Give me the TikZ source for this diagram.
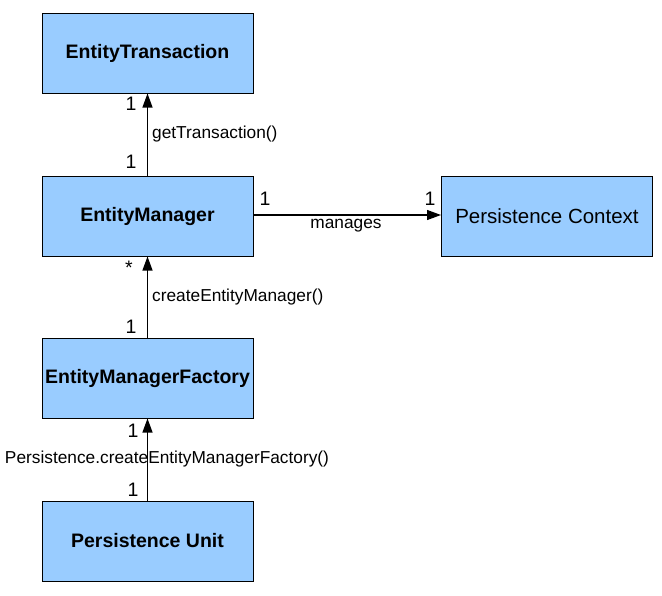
\documentclass[tikz,border=0pt]{standalone}
\usepackage{fontspec}
\setmainfont{Liberation Sans}
\usetikzlibrary{arrows.meta}

\definecolor{boxblue}{HTML}{99CCFF}

\begin{document}
\begin{tikzpicture}[x=1pt,y=-1pt,
	umlbox/.style={draw=black,line width=1pt,fill=boxblue,minimum width=211pt,minimum height=80pt,inner sep=0pt},
	umlbold/.style={umlbox,font=\fontsize{19.5}{24}\selectfont\bfseries},
	umlplain/.style={umlbox,font=\fontsize{20.5}{24}\selectfont},
	assoc/.style={draw=black,line width=1.1pt,-{Triangle[length=14pt,width=10pt]}},
	role/.style={font=\fontsize{17.3}{20}\selectfont,inner sep=0pt},
	mult/.style={font=\fontsize{19.5}{22}\selectfont,inner sep=0pt}]
	\useasboundingbox (0,0) rectangle (662,595);

	\node[umlbold] (trans) at (147.5,53) {EntityTransaction};
	\node[umlbold] (manager) at (147.5,216) {EntityManager};
	\node[umlplain] (context) at (547,216) {Persistence Context};
	\node[umlbold] (factory) at (147.5,378) {EntityManagerFactory};
	\node[umlbold] (unit) at (147.5,541) {Persistence Unit};

	% getTransaction
	\draw[assoc] (manager.north) -- (trans.south);
	\node[role,anchor=west] (gettx) at (152,134) {getTransaction()};
	\node[mult] (m1) at (131,104) {1};
	\node[mult] (m2) at (131,162) {1};

	% manages
	\draw[assoc] (manager.east |- 0,215) coordinate (mgrA) -- (context.west |- 0,215) coordinate (ctxA);
	\node[role] (manages) at (346,226) {manages};
	\node[mult] (m3) at (265,199) {1};
	\node[mult] (m4) at (430,199) {1};

	% createEntityManager
	\draw[assoc] (factory.north) -- (manager.south);
	\node[role,anchor=west] (createem) at (152,297) {createEntityManager()};
	\node[mult] (m5) at (129,268) {*};
	\node[mult] (m6) at (131,327) {1};

	% createEntityManagerFactory
	\draw[assoc] (unit.north) -- (factory.south);
	\node[role] (createemf) at (167,459) {Persistence.createEntityManagerFactory()};
	\node[mult] (m7) at (133,431) {1};
	\node[mult] (m8) at (133,490) {1};
\end{tikzpicture}
\end{document}
